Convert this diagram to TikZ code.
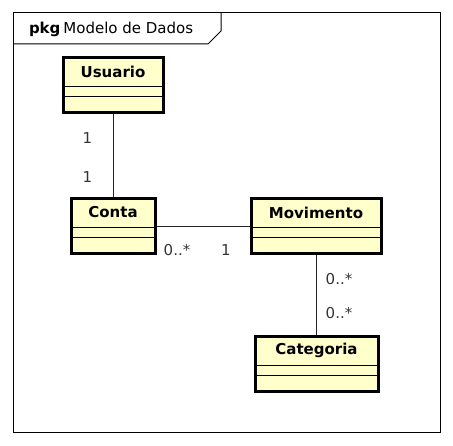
\documentclass[tikz,border=0pt]{standalone}
\usepackage{fontspec}
\setmainfont{DejaVu Sans}
\definecolor{clsfill}{RGB}{255,255,204}
\begin{document}
\begin{tikzpicture}[x=1pt,y=-1pt,line width=1pt,
   cls/.style={draw,fill=clsfill,line width=3pt,inner sep=0pt},
   ctitle/.style={inner sep=0pt,font=\fontsize{15}{18}\selectfont\bfseries},
   mult/.style={inner sep=0pt,font=\fontsize{15}{18}\selectfont,text=black!80}]

   \useasboundingbox (0,0) rectangle (453,446);

   % frame
   \draw (13,13) rectangle (440,433);
   \draw (13,44) -- (208,44) -- (221,31) -- (221,13);
   \path (28.5,29) node[anchor=west,inner sep=0pt,font=\fontsize{15}{18}\selectfont] (frame)
      {\textbf{pkg}\hspace{3pt}Modelo de Dados};

   % classes
   \path (113,85.5) node[cls,minimum width=100pt,minimum height=55pt] (usuario) {};
   \path (113,226.5) node[cls,minimum width=84pt,minimum height=55pt] (conta) {};
   \path (316,226.5) node[cls,minimum width=130pt,minimum height=55pt] (movimento) {};
   \path (316.5,364.5) node[cls,minimum width=123pt,minimum height=55pt] (categoria) {};

   \foreach \c in {usuario,conta,movimento,categoria}{
      \draw[line width=.8pt] ([yshift=-30pt]\c.north west) -- ([yshift=-30pt]\c.north east);
      \draw[line width=.8pt] ([yshift=-40pt]\c.north west) -- ([yshift=-40pt]\c.north east);
   }

   \path ([yshift=-15pt]usuario.north) node[ctitle] (usuario-t) {Usuario};
   \path ([yshift=-15pt]conta.north) node[ctitle] (conta-t) {Conta};
   \path ([yshift=-15pt]movimento.north) node[ctitle] (movimento-t) {Movimento};
   \path ([yshift=-15pt]categoria.north) node[ctitle] (categoria-t) {Categoria};

   % associations
   \draw[black!85] (usuario.south) -- (conta.north);
   \draw[black!85] (conta.east) -- (movimento.west);
   \draw[black!85] (movimento.south) -- (movimento.south |- categoria.north);

   % multiplicities
   \path (87.5,138.5) node[mult] (m1) {1};
   \path (87.5,177) node[mult] (m2) {1};
   \path (177,250) node[mult] (m3) {0..*};
   \path (226,250) node[mult] (m4) {1};
   \path (339,279) node[mult] (m5) {0..*};
   \path (339,313) node[mult] (m6) {0..*};

\end{tikzpicture}
\end{document}
